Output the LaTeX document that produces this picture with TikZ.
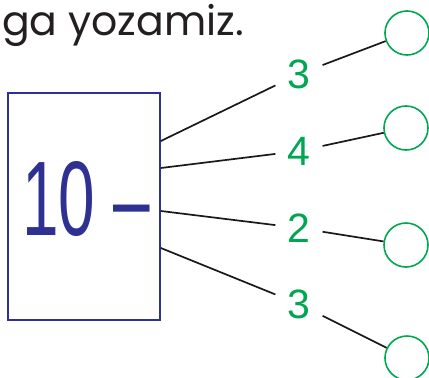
\documentclass[tikz,border=0pt]{standalone}
\usepackage{fontspec}
\usepackage{tikz}
\usetikzlibrary{positioning,calc}
\newfontfamily\labelfont{Liberation Sans}
\newfontfamily\titlefont{Poppins}
\definecolor{boxblue}{HTML}{2E3192}
\definecolor{numgreen}{HTML}{00A651}
\definecolor{inkgray}{HTML}{231F20}
\tikzset{
  numlabel/.style={text=numgreen, inner sep=12pt, font=\labelfont\fontsize{41}{41}\selectfont},
  answer/.style={circle, draw=numgreen, line width=1.6pt, minimum size=44pt, inner sep=0pt},
  link/.style={line width=1.7pt, black!90}
}

\begin{document}
\begin{tikzpicture}[x=1pt, y=-1pt]
    \useasboundingbox (0,0) rectangle (429,378);

    % --- Title (cut off at the left) ---
    \node[text=inkgray, font=\titlefont\fontsize{41}{41}\selectfont, anchor=base east, inner sep=0pt] (title) at (244,35) {ga yozamiz.};

    % --- Box with the minuend ---
    \node[draw=boxblue, line width=1.7pt, minimum width=152pt, minimum height=227pt, inner sep=0pt] (box) at (84,206.5) {};
    \node[text=boxblue, font=\labelfont\fontsize{106}{106}\selectfont, xscale=0.62, anchor=base west, inner sep=0pt] (minuend) at (22,235) {10 –};

    % start points on the right edge of the box
    \coordinate (s1) at (box.east |- 0,141);
    \coordinate (s2) at (box.east |- 0,168);
    \coordinate (s3) at (box.east |- 0,211);
    \coordinate (s4) at (box.east |- 0,248);

    % --- Subtrahends ---
    \node[numlabel] (n1) at (299,74) {3};
    \node[numlabel] (n2) at (299,151) {4};
    \node[numlabel] (n3) at (299,228) {2};
    \node[numlabel] (n4) at (299,304) {3};

    % --- Empty answer circles ---
    \node[answer] (c1) at (407,33) {};
    \node[answer] (c2) at (406,128) {};
    \node[answer] (c3) at (406,245) {};
    \node[answer] (c4) at (407,358) {};

    % connectors
    \foreach \i in {1,...,4} {
        \draw[link] (s\i) -- (n\i);
        \draw[link] (n\i) -- (c\i);
    }

\end{tikzpicture}
\end{document}
